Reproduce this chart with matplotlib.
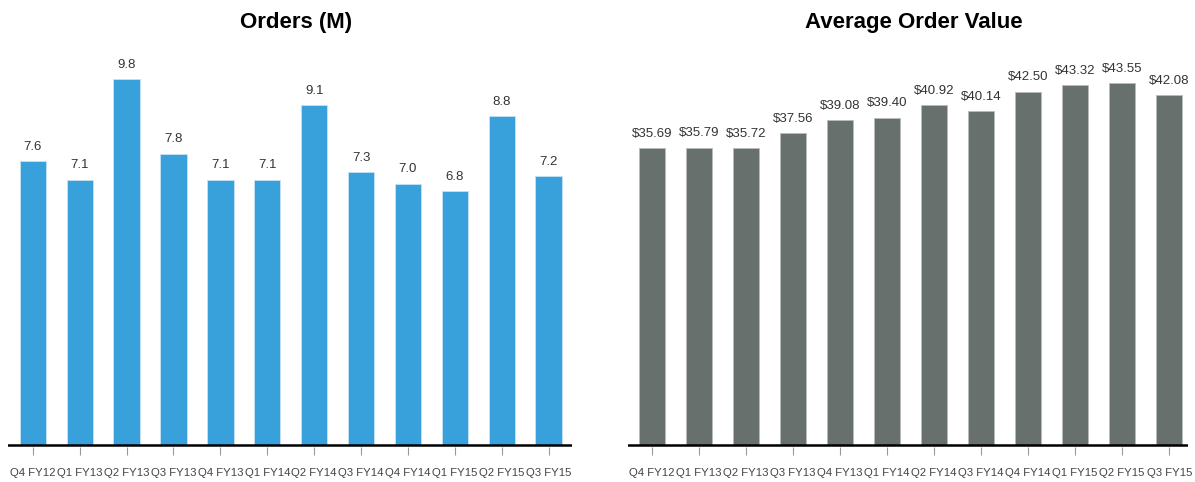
import matplotlib.pyplot as plt

quarters = ["Q4 FY12", "Q1 FY13", "Q2 FY13", "Q3 FY13", "Q4 FY13", "Q1 FY14",
            "Q2 FY14", "Q3 FY14", "Q4 FY14", "Q1 FY15", "Q2 FY15", "Q3 FY15"]
orders = [7.6, 7.1, 9.8, 7.8, 7.1, 7.1, 9.1, 7.3, 7.0, 6.8, 8.8, 7.2]
aov = [35.69, 35.79, 35.72, 37.56, 39.08, 39.40, 40.92, 40.14, 42.50, 43.32, 43.55, 42.08]

BLUE = "#38a0da"
GRAY = "#67706d"


def draw_panel(ax, values, color, edge, title, fmt, ylim, xlim):
    x = range(len(values))
    ax.bar(x, values, width=0.56, color=color, edgecolor=edge, linewidth=0.6)
    for xi, v in zip(x, values):
        ax.annotate(fmt.format(v), (xi, v), xytext=(0, 6), textcoords="offset points",
                    ha="center", va="bottom", fontsize=9.5, color="#333333")
    ax.axhline(0, color="black", linewidth=1.8)
    ax.set_ylim(*ylim)
    ax.set_xlim(*xlim)
    ax.set_xticks(list(x))
    ax.set_xticklabels(quarters, fontsize=8.2, color="#444444")
    ax.tick_params(axis="x", length=5.8, width=0.8, color="#999999", pad=9.5)
    ax.set_yticks([])
    for s in ax.spines.values():
        s.set_visible(False)
    ax.set_title(title, fontsize=16, fontweight="bold", pad=12, x=0.51)


plt.rcParams["font.family"] = ["Liberation Sans", "DejaVu Sans"]
fig = plt.figure(figsize=(11.95, 4.82), dpi=100)

ax1 = fig.add_axes([8 / 1195, 35 / 482, 564 / 1195, 402 / 482])
ax2 = fig.add_axes([628 / 1195, 35 / 482, 560 / 1195, 402 / 482])

draw_panel(ax1, orders, BLUE, "#c8e2f2", "Orders (M)", "{:.1f}", (-0.054, 10.71), (-0.53, 11.5))
draw_panel(ax2, aov, GRAY, "#b9bdbb", "Average Order Value", "${:.2f}", (-0.24, 48.13), (-0.51, 11.4))

fig.savefig("out.png", dpi=100)
